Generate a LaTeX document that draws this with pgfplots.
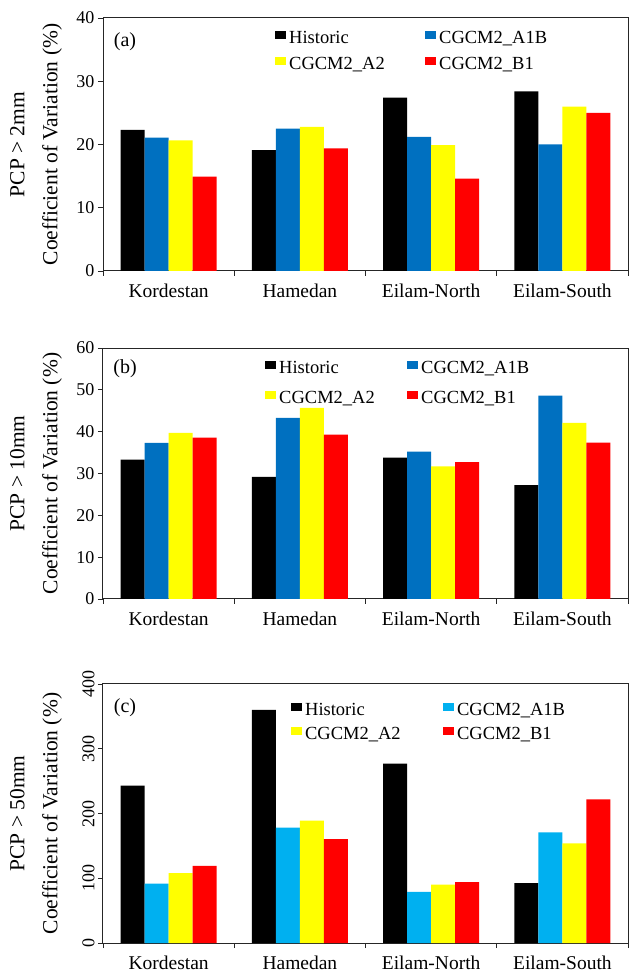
\documentclass[border=0pt]{standalone}
\usepackage{fontspec}
\setmainfont{Liberation Serif}
\usepackage{pgfplots}
\pgfplotsset{compat=1.18}
\definecolor{cblue}{RGB}{0,112,192}
\definecolor{lblue}{RGB}{0,176,240}
\definecolor{cyel}{RGB}{255,255,0}
\definecolor{cred}{RGB}{255,0,0}
\newcommand{\lf}{\fontsize{18.5}{22}\selectfont\strut}
\pgfplotsset{
  panel/.style={
    scale only axis, width=525pt, anchor=south west,
    ybar=0pt, bar width=0.183,
    xmin=-0.5, xmax=3.5, ymin=0,
    xtick={0,1,2,3},
    xticklabels={Kordestan,Hamedan,Eilam-North,Eilam-South},
    major x tick style={draw=none},
    minor xtick={-0.5,0.5,1.5,2.5,3.5},
    minor tick length=5pt, major tick length=5pt,
    tick align=outside, xtick pos=bottom, ytick pos=left,
    axis line style={black!85, line width=1pt},
    every tick/.style={black!85, line width=0.8pt},
    /pgf/number format/assume math mode=true,
    yticklabel style={font=\fontsize{18}{21}\selectfont},
    xticklabel style={font=\fontsize{19.5}{22}\selectfont, yshift=-4pt},
    every axis y label/.style={at={(axis description cs:0,0.5)}, xshift=-67pt, rotate=90, anchor=center, align=center, font=\fontsize{21.5}{33}\selectfont},
    legend columns=2,
    legend cell align=left,
    legend image code/.code={\fill[##1] (0pt,-2.5pt) rectangle (11pt,5.5pt);},
    legend style={draw=none, fill=none, inner sep=0pt, anchor=north west, nodes={inner sep=1pt}, /tikz/every odd column/.append style={column sep=2pt}, /tikz/every even column/.append style={column sep=0pt}},
  },
}
\begin{document}
\begin{tikzpicture}
\path[use as bounding box] (0pt,0pt) rectangle (630pt,974pt);
% ---------------- (a)
\begin{axis}[panel, at={(103pt,703pt)}, height=253pt,
  ymax=40, ytick={0,10,20,30,40},
  ylabel={PCP > 2mm\\Coefficient of Variation (\%)},
  legend style={at={(axis description cs:0.3276,0.9655)}, row sep=7.5pt}]
\addplot[fill=black, draw=none] coordinates {(0,22.3) (1,19.1) (2,27.4) (3,28.4)};
\addplot[fill=cblue, draw=none] coordinates {(0,21.1) (1,22.5) (2,21.2) (3,20.0)};
\addplot[fill=cyel, draw=none] coordinates {(0,20.65) (1,22.8) (2,19.9) (3,26.0)};
\addplot[fill=cred, draw=none] coordinates {(0,14.9) (1,19.4) (2,14.6) (3,25.0)};
\addlegendentry{\makebox[135pt][l]{\lf Historic}}
\addlegendentry{\lf CGCM2\_A1B}
\addlegendentry{\makebox[135pt][l]{\lf CGCM2\_A2}}
\addlegendentry{\lf CGCM2\_B1}
\node[font=\fontsize{20}{22}\selectfont] at (rel axis cs:0.042,0.905) {(a)};
\end{axis}
% ---------------- (b)
\begin{axis}[panel, at={(103pt,375pt)}, height=251pt,
  ymax=60, ytick={0,10,20,30,40,50,60},
  ylabel={PCP > 10mm\\Coefficient of Variation (\%)},
  legend style={at={(axis description cs:0.3086,0.964)}, row sep=10.5pt}]
\addplot[fill=black, draw=none] coordinates {(0,33.3) (1,29.2) (2,33.8) (3,27.2)};
\addplot[fill=cblue, draw=none] coordinates {(0,37.3) (1,43.3) (2,35.2) (3,48.6)};
\addplot[fill=cyel, draw=none] coordinates {(0,39.7) (1,45.7) (2,31.7) (3,42.1)};
\addplot[fill=cred, draw=none] coordinates {(0,38.6) (1,39.3) (2,32.7) (3,37.4)};
\addlegendentry{\makebox[127pt][l]{\lf Historic}}
\addlegendentry{\lf CGCM2\_A1B}
\addlegendentry{\makebox[127pt][l]{\lf CGCM2\_A2}}
\addlegendentry{\lf CGCM2\_B1}
\node[font=\fontsize{20}{22}\selectfont] at (rel axis cs:0.042,0.916) {(b)};
\end{axis}
% ---------------- (c)
\begin{axis}[panel, at={(103pt,31pt)}, height=259pt,
  ymax=400, ytick={0,100,200,300,400},
  yticklabel style={rotate=90, anchor=south},
  ylabel={PCP > 50mm\\Coefficient of Variation (\%)},
  legend style={at={(axis description cs:0.358,0.942)}, row sep=5pt}]
\addplot[fill=black, draw=none] coordinates {(0,243) (1,360) (2,277) (3,92.6)};
\addplot[fill=lblue, draw=none] coordinates {(0,91.6) (1,178) (2,79) (3,171)};
\addplot[fill=cyel, draw=none] coordinates {(0,108) (1,189) (2,90) (3,154)};
\addplot[fill=cred, draw=none] coordinates {(0,119) (1,160.6) (2,94) (3,222)};
\addlegendentry{\makebox[137pt][l]{\lf Historic}}
\addlegendentry{\lf CGCM2\_A1B}
\addlegendentry{\makebox[137pt][l]{\lf CGCM2\_A2}}
\addlegendentry{\lf CGCM2\_B1}
\node[font=\fontsize{20}{22}\selectfont] at (rel axis cs:0.042,0.907) {(c)};
\end{axis}
\end{tikzpicture}
\end{document}
